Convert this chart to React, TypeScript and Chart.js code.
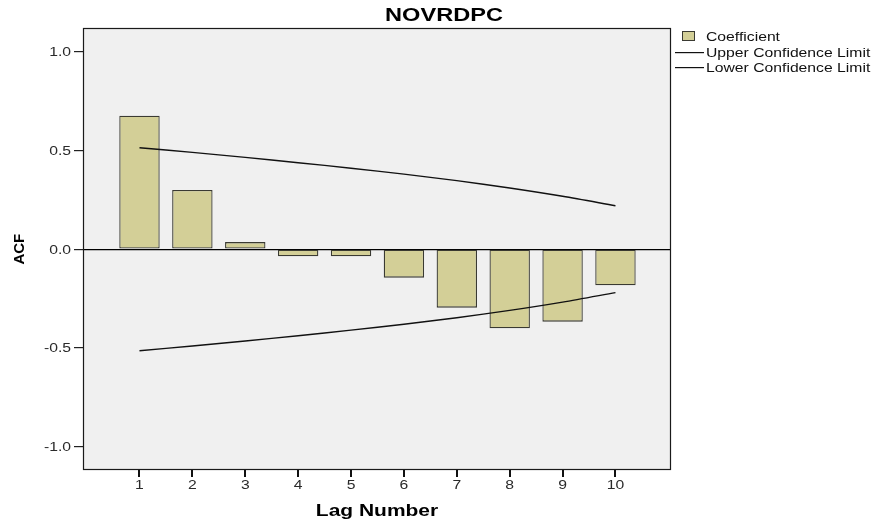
import React, { useEffect, useRef } from "react";
import { Chart, registerables } from "chart.js";

Chart.register(...registerables);

const TITLE = "NOVRDPC";
const X_TITLE = "Lag Number";
const Y_TITLE = "ACF";
const lags = [1, 2, 3, 4, 5, 6, 7, 8, 9, 10];
const coefficient = [0.676, 0.3, 0.036, -0.036, -0.036, -0.144, -0.296, -0.4, -0.367, -0.183];
const upperLimit = [0.514, 0.49, 0.465, 0.438, 0.41, 0.38, 0.347, 0.31, 0.268, 0.22];
const lowerLimit = [-0.514, -0.49, -0.465, -0.438, -0.41, -0.38, -0.347, -0.31, -0.268, -0.22];
const yTicks = [-1, -0.5, 0, 0.5, 1];
const seriesLabels = ["Coefficient", "Upper Confidence Limit", "Lower Confidence Limit"];

const BAR_FILL = "#D3CF97";
const BAR_EDGE = "#3a3a32";
const STRETCH = 1.31;

function sText(ctx: CanvasRenderingContext2D, text: string, x: number, y: number, font: string, align: CanvasTextAlign, color: string) {
  ctx.save();
  ctx.font = font;
  ctx.fillStyle = color;
  ctx.textAlign = align;
  ctx.textBaseline = "alphabetic";
  ctx.translate(x, y);
  ctx.scale(STRETCH, 1);
  ctx.fillText(text, 0, 0);
  ctx.restore();
}

const decor = {
  id: "decor",
  beforeDraw(chart: any) {
    const { ctx, chartArea: a, width, height } = chart;
    ctx.save();
    ctx.fillStyle = "#ffffff";
    ctx.fillRect(0, 0, width, height);
    ctx.fillStyle = "#F0F0F0";
    ctx.fillRect(a.left, a.top, a.right - a.left, a.bottom - a.top);
    ctx.restore();
  },
  afterDraw(chart: any) {
    const { ctx, chartArea: a } = chart;
    const xs = chart.scales.x;
    const ys = chart.scales.y;
    ctx.save();
    ctx.strokeStyle = "#1a1a1a";
    ctx.lineWidth = 1.2;
    ctx.strokeRect(a.left + 0.5, a.top + 0.5, a.right - a.left - 1, a.bottom - a.top);
    ctx.restore();

    const tickFont = "12px 'Liberation Sans', Arial, sans-serif";
    yTicks.forEach((v) => {
      const py = ys.getPixelForValue(v);
      sText(ctx, v.toFixed(1), 71, py + 4.5, tickFont, "right", "#2a2a2a");
    });
    lags.forEach((l) => {
      const px = xs.getPixelForValue(l);
      sText(ctx, String(l), px, 489, tickFont, "center", "#2a2a2a");
    });

    sText(ctx, TITLE, 444, 21, "bold 18px 'Liberation Sans', Arial, sans-serif", "center", "#000");
    sText(ctx, X_TITLE, (a.left + a.right) / 2, 516, "bold 16px 'Liberation Sans', Arial, sans-serif", "center", "#000");

    ctx.save();
    ctx.translate(20, ys.getPixelForValue(0));
    ctx.rotate(-Math.PI / 2);
    ctx.font = "bold 15px 'Liberation Sans', Arial, sans-serif";
    ctx.fillStyle = "#000";
    ctx.textAlign = "center";
    ctx.textBaseline = "middle";
    ctx.fillText(Y_TITLE, 0, 0);
    ctx.restore();

    // legend
    const ds = chart.data.datasets;
    const legFont = "12px 'Liberation Sans', Arial, sans-serif";
    ctx.save();
    ctx.fillStyle = BAR_FILL;
    ctx.fillRect(682, 31, 13, 10);
    ctx.strokeStyle = BAR_EDGE;
    ctx.lineWidth = 1;
    ctx.strokeRect(682.5, 31.5, 12, 9);
    ctx.fillStyle = "#111";
    ctx.fillRect(675, 52, 29, 1.2);
    ctx.fillRect(675, 67, 29, 1.2);
    ctx.restore();
    sText(ctx, ds[0].label, 706, 41, legFont, "left", "#111");
    sText(ctx, ds[1].label, 706, 56.5, legFont, "left", "#111");
    sText(ctx, ds[2].label, 706, 71.5, legFont, "left", "#111");

    // x tick marks (drawn last)
    ctx.save();
    ctx.setTransform(1, 0, 0, 1, 0, 0);
    ctx.globalAlpha = 1;
    ctx.globalCompositeOperation = "source-over";
    ctx.strokeStyle = "#111111";
    ctx.lineWidth = 2;
    ctx.beginPath();
    for (let i = 0; i < lags.length; i++) {
      const px = Math.round(xs.getPixelForValue(lags[i]));
      ctx.moveTo(px, a.bottom + 1);
      ctx.lineTo(px, a.bottom + 8);
    }
    ctx.stroke();
    ctx.restore();
  },
};

export default function App() {
  const ref = useRef<HTMLCanvasElement | null>(null);
  useEffect(() => {
    if (!ref.current) return;
    const chart = new Chart(ref.current, {
      type: "bar",
      data: {
        datasets: [
          {
            type: "bar",
            label: seriesLabels[0],
            data: lags.map((l, i) => ({ x: l, y: coefficient[i] })),
            backgroundColor: BAR_FILL,
            borderColor: BAR_EDGE,
            borderWidth: 1.3,
            borderSkipped: false,
            categoryPercentage: 1,
            barPercentage: 0.764,
            order: 2,
          } as any,
          {
            type: "line",
            label: seriesLabels[1],
            data: lags.map((l, i) => ({ x: l, y: upperLimit[i] })),
            borderColor: "#111",
            borderWidth: 1.4,
            pointRadius: 0,
            tension: 0.3,
            fill: false,
            order: 1,
          } as any,
          {
            type: "line",
            label: seriesLabels[2],
            data: lags.map((l, i) => ({ x: l, y: lowerLimit[i] })),
            borderColor: "#111",
            borderWidth: 1.4,
            pointRadius: 0,
            tension: 0.3,
            fill: false,
            order: 1,
          } as any,
        ],
      },
      options: {
        responsive: false,
        animation: false,
        layout: { padding: { left: 0, right: 201, top: 28, bottom: 0 } },
        plugins: {
          legend: { display: false },
          title: { display: false },
          tooltip: { enabled: false },
        },
        scales: {
          x: {
            type: "linear",
            offset: false,
            min: -0.068,
            max: 11.05,
            afterBuildTicks: (s: any) => {
              s.ticks = lags.map((v) => ({ value: v }));
            },
            afterFit: (s: any) => {
              s.height = 53;
            },
            ticks: { color: "transparent", font: { size: 12 } },
            grid: { display: false },
            border: { display: false },
          },
          y: {
            type: "linear",
            min: -1.113,
            max: 1.12,
            afterBuildTicks: (s: any) => {
              s.ticks = yTicks.map((v) => ({ value: v }));
            },
            afterFit: (s: any) => {
              s.width = 83;
            },
            ticks: { color: "transparent", font: { size: 12 } },
            grid: {
              offset: false,
              color: (c: any) => (c.tick && c.tick.value === 0 ? "#000" : "transparent"),
              tickColor: "#222",
              tickLength: 9,
              lineWidth: 1.2,
            },
            border: { display: false },
          },
        },
      } as any,
      plugins: [decor],
    });
    return () => chart.destroy();
  }, []);
  return (
    <div style={{ position: "absolute", left: 0, top: 0, width: 872, height: 522 }}>
      <canvas ref={ref} width={872} height={522} style={{ display: "block" }} />
    </div>
  );
}
